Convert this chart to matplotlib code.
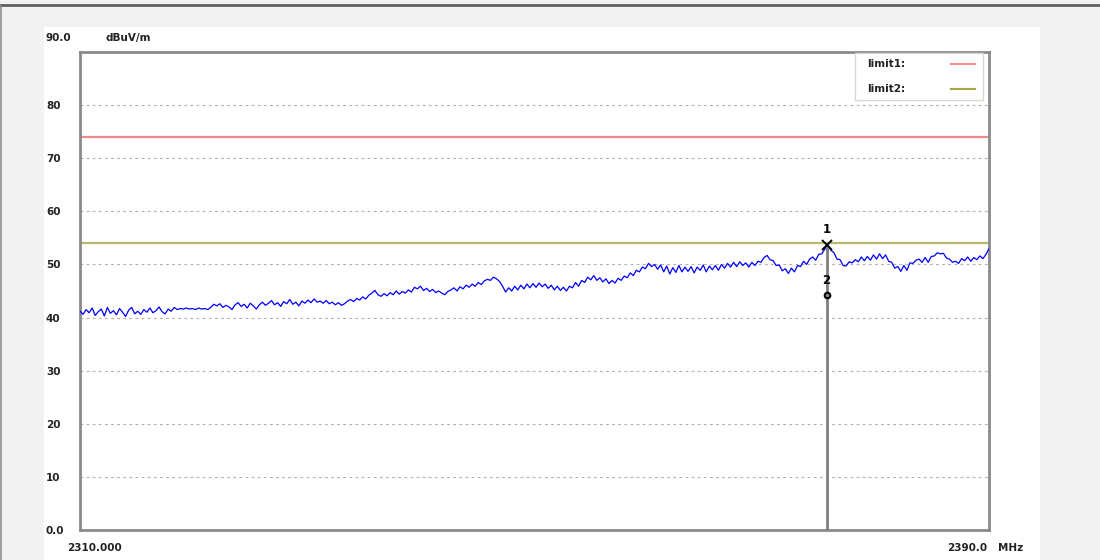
import numpy as np
import matplotlib
matplotlib.use("Agg")
import matplotlib.pyplot as plt
from matplotlib.patches import Rectangle
from matplotlib.lines import Line2D

# ---------------- data ----------------
f_start, f_stop = 2310.0, 2390.0
trace_level = [
    41.2, 40.6, 41.5, 40.9, 41.8, 40.4, 41.1, 41.6, 40.3, 41.9, 40.8, 41.3, 40.5, 41.7, 41.0, 40.2, 41.4, 41.9, 40.7, 41.2,
    40.6, 41.5, 41.0, 41.8, 40.9, 41.3, 42.0, 41.1, 40.7, 41.6, 41.2, 41.9, 41.5, 41.7, 41.6, 41.8, 41.6, 41.7, 41.5, 41.8,
    41.6, 41.7, 41.5, 41.9, 42.5, 42.2, 42.6, 41.9, 42.3, 42.0, 41.5, 42.4, 42.8, 42.1, 42.5, 41.8, 42.7, 42.2, 41.6, 42.4,
    42.9, 42.3, 42.7, 43.2, 42.4, 42.8, 42.1, 43.0, 42.6, 43.4, 42.5, 42.9, 42.2, 43.1, 42.7, 43.3, 42.8, 43.5, 42.9, 43.1,
    42.7, 43.2, 42.6, 42.9, 42.4, 42.8, 42.3, 42.6, 43.1, 43.4, 43.0, 43.6, 43.3, 43.9, 43.5, 44.2, 44.6, 45.1, 44.3, 44.0,
    44.5, 44.1, 44.7, 44.3, 45.0, 44.4, 44.9, 44.6, 45.2, 44.8, 45.7, 45.4, 45.9, 45.1, 45.5, 44.9, 45.3, 44.7, 45.0, 44.6,
    44.3, 44.9, 45.2, 45.6, 45.0, 45.8, 45.4, 46.1, 45.7, 46.3, 45.9, 46.6, 46.2, 46.9, 47.2, 47.0, 47.6, 47.3, 46.8, 45.9,
    44.8, 45.6, 45.0, 45.9, 45.2, 46.1, 45.4, 46.3, 45.6, 46.4, 45.7, 46.5, 45.8, 46.3, 45.5, 46.1, 45.2, 45.9, 45.1, 45.7,
    45.0, 45.9, 45.6, 46.6, 45.9, 47.0, 46.6, 47.6, 47.1, 47.9, 47.0, 47.5, 46.7, 47.3, 46.4, 47.0, 46.5, 47.4, 47.0, 47.8,
    47.5, 48.4, 47.9, 48.9, 48.6, 49.5, 49.2, 50.2, 49.6, 50.0, 49.1, 49.9, 48.6, 49.7, 48.2, 49.4, 48.5, 49.8, 48.6, 49.5,
    48.7, 49.6, 48.4, 49.5, 48.9, 49.9, 48.6, 49.7, 49.0, 49.8, 48.9, 50.0, 49.3, 50.2, 49.5, 50.4, 49.6, 50.5, 49.8, 50.3,
    49.5, 50.4, 49.8, 50.6, 50.4, 51.3, 51.7, 50.9, 50.7, 49.8, 49.9, 48.8, 49.2, 48.3, 49.3, 48.6, 49.8, 49.6, 50.6, 50.0,
    51.0, 51.4, 50.8, 51.9, 52.0, 52.9, 53.7, 52.7, 52.2, 51.0, 50.9, 49.8, 49.7, 50.5, 50.3, 50.9, 50.5, 51.4, 50.7, 51.5,
    50.8, 51.8, 51.0, 52.0, 51.1, 51.8, 50.6, 50.4, 49.3, 49.6, 48.7, 49.8, 48.9, 50.3, 50.2, 50.8, 51.0, 50.4, 51.3, 50.4,
    51.5, 51.6, 52.2, 52.0, 52.1, 51.2, 51.0, 50.4, 50.6, 50.2, 51.1, 50.7, 51.4, 50.6, 51.3, 50.9, 51.6, 51.1, 51.9, 53.0,
]
trace_freq = np.linspace(f_start, f_stop, len(trace_level))

limit_names = ["limit1:", "limit2:"]
limit_levels = [74.0, 54.0]
limit_colors = ["#f08a8a", "#b8b870"]
legend_colors = ["#ff8c8c", "#a8a840"]

marker_freq = 2375.7
marker1_level = 53.7
marker2_level = 44.2

y_ticks = [0, 10, 20, 30, 40, 50, 60, 70, 80]
y_tick_labels = ["0.0", "10", "20", "30", "40", "50", "60", "70", "80"]
y_top_label = "90.0"
unit_y = "dBuV/m"
x_left_label = "2310.000"
x_right_label = "2390.0"
unit_x = "MHz"

# ---------------- figure ----------------
W, H = 1100, 560
fig = plt.figure(figsize=(W / 100, H / 100), dpi=100)
fig.patch.set_facecolor("#f2f2f2")

def fx(px):
    return px / W

def fy(py):
    return 1 - py / H

# top dark rule and white panel
fig.add_artist(Line2D([0, 1], [fy(5), fy(5)], color="#606060", lw=2.0, transform=fig.transFigure))
fig.add_artist(Line2D([fx(1), fx(1)], [fy(6), 0], color="#909090", lw=1.2, transform=fig.transFigure))
fig.add_artist(Rectangle((fx(44), 0), fx(1040) - fx(44), fy(27), transform=fig.transFigure,
                         facecolor="white", edgecolor="none", zorder=0))

ax = fig.add_axes([fx(80), fy(530), fx(989) - fx(80), fy(52) - fy(530)])
ax.set_facecolor("white")
ax.set_xlim(f_start, f_stop)
ax.set_ylim(0, 90)

for s in ax.spines.values():
    s.set_color("#8a8a8a")
    s.set_linewidth(2.0)

ax.set_yticks(y_ticks)
ax.set_yticklabels(y_tick_labels)
ax.set_xticks([])
ax.tick_params(axis="y", length=0, pad=24.5, labelsize=7.5)
for lab in ax.get_yticklabels():
    lab.set_horizontalalignment("left")
    lab.set_fontweight("bold")
    lab.set_color("#222222")

for yv in y_ticks[1:]:
    ax.axhline(yv, color="#b0b0b0", lw=0.8, ls=(0, (2.5, 3)), zorder=1)

# limits
for lv, lc in zip(limit_levels, limit_colors):
    ax.axhline(lv, color=lc, lw=1.6, zorder=2)

# trace
ax.plot(trace_freq, trace_level, color="#0000ff", lw=0.9, zorder=3)

# marker line and markers
ax.vlines(marker_freq, 0, marker1_level, color="#808080", lw=2.0, zorder=4)
ax.plot([marker_freq], [marker1_level], marker="x", color="black", ms=7, mew=1.4, ls="none", zorder=5)
ax.text(marker_freq, marker1_level + 1.6, "1", ha="center", va="bottom", fontsize=8.5, fontweight="bold", zorder=5)
ax.plot([marker_freq], [marker2_level], marker="o", mfc="none", mec="black", ms=4, mew=1.5, ls="none", zorder=5)
ax.text(marker_freq, marker2_level + 1.5, "2", ha="center", va="bottom", fontsize=8.5, fontweight="bold", zorder=5)

# legend box
lg_x0, lg_x1, lg_y0, lg_y1 = 855, 983, 53, 100
fig.add_artist(Rectangle((fx(lg_x0), fy(lg_y1)), fx(lg_x1) - fx(lg_x0), fy(lg_y0) - fy(lg_y1),
                         transform=fig.transFigure, facecolor="white", edgecolor="#d8d8d0", lw=1.0, zorder=10))
for i, (nm, lc) in enumerate(zip(limit_names, legend_colors)):
    yy = 64 + 25 * i
    fig.text(fx(867), fy(yy), nm, ha="left", va="center", fontsize=7.5, fontweight="bold",
             color="#222222", zorder=11)
    fig.add_artist(Line2D([fx(951), fx(975)], [fy(yy), fy(yy)], color=lc, lw=1.5,
                          transform=fig.transFigure, zorder=11))

# axis labels
fig.text(fx(46), fy(38), y_top_label, ha="left", va="center", fontsize=7.5, fontweight="bold", color="#222222")
fig.text(fx(106), fy(38), unit_y, ha="left", va="center", fontsize=7.5, fontweight="bold", color="#222222")
fig.text(fx(67), fy(548), x_left_label, ha="left", va="center", fontsize=7.5, fontweight="bold", color="#222222")
fig.text(fx(987), fy(548), x_right_label, ha="right", va="center", fontsize=7.5, fontweight="bold", color="#222222")
fig.text(fx(998), fy(548), unit_x, ha="left", va="center", fontsize=7.5, fontweight="bold", color="#222222")

fig.savefig("out.png", dpi=100, facecolor=fig.get_facecolor())
